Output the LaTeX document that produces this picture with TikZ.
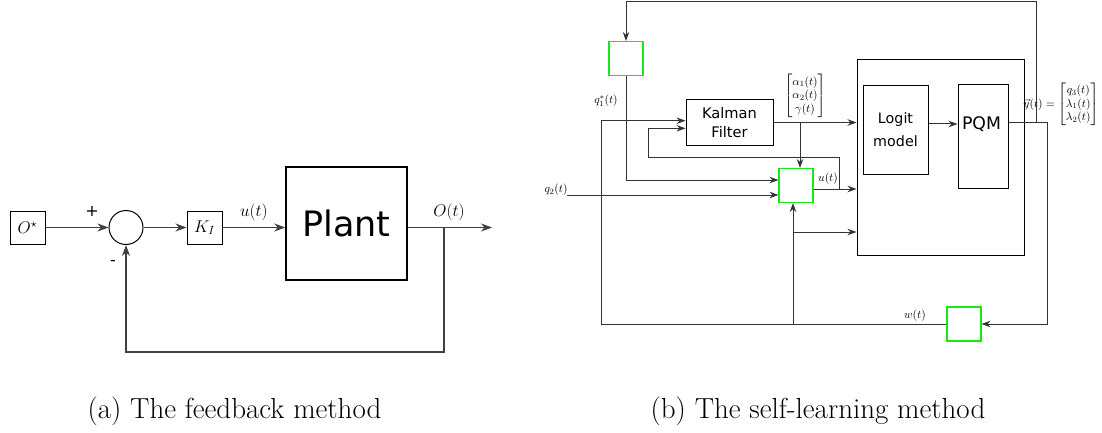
\RequirePackage{fix-cm}
\documentclass[tikz,border=0pt]{standalone}
\usepackage{amsmath}
\usepackage{fontspec}
\newfontfamily\dejavu{DejaVu Sans}
\usetikzlibrary{positioning,arrows.meta}

\begin{document}
\begin{tikzpicture}[
        x=1pt, y=-1pt,
        blk/.style={draw, line width=1pt, inner sep=0pt},
        gbox/.style={draw={rgb,255:red,20;green,235;blue,20}, line width=1.15pt, minimum width=34pt, minimum height=34pt, inner sep=0pt},
        arr/.style={-{Stealth[length=9pt, width=6.5pt, inset=3pt]}, line width=1pt, black!80},
        bigarr/.style={-{Stealth[length=11pt, width=8pt, inset=3.5pt]}, line width=1.1pt, black!75},
        bigmath/.style={font=\fontsize{17}{20}\selectfont},
        smallmath/.style={font=\fontsize{11.5}{13.5}\selectfont},
        capt/.style={font=\fontsize{29}{33}\selectfont}
    ]
        \useasboundingbox (0,0) rectangle (1102,433);

        % (a) feedback loop
        \node[blk, minimum width=35pt, minimum height=33pt, bigmath] (ostar) at (27.5,227.5) {$O^\star$};
        \node[draw, circle, line width=1pt, minimum size=34pt, inner sep=0pt] (sum) at (126,227.5) {};
        \node[blk, minimum width=35pt, minimum height=33pt, bigmath] (ki) at (204.5,227.5) {$K_I$};
        \node[draw, line width=1.5pt, minimum width=121pt, minimum height=113pt, font=\dejavu\fontsize{35}{40}\selectfont] (plant) at (346.5,223.5) {Plant};

        \coordinate (out) at (492,227.5);
        \coordinate (fb) at (444,227.5);
        \coordinate (fbb) at (444,352);

        \draw[bigarr] (ostar) -- (sum);
        \draw[bigarr] (sum) -- (ki);
        \draw[bigarr] (ki.east) -- (ki.east -| plant.west);
        \draw[bigarr] (plant.east |- out) -- (out);
        \draw[bigarr] (fb) -- (fbb) -| (sum.south);

        % signs and signals
        \node[font=\dejavu\fontsize{16}{18}\selectfont] (plus) at (92,211) {+};
        \node[font=\dejavu\fontsize{16}{18}\selectfont] (minus) at (113,263) {-};
        \node[bigmath] (ulab) at (254,212) {$u(t)$};
        \node[bigmath] (olab) at (449,212) {$O(t)$};

        % (b) self-learning loop
        \node[gbox] (g1) at (626,58.5) {};
        \node[gbox] (g2) at (796,185.5) {};
        \node[gbox] (gw) at (964,324) {};
        \node[blk, minimum width=87pt, minimum height=45pt, align=center, font=\dejavu\fontsize{14.6}{19}\selectfont] (kalman) at (729.5,122.5) {Kalman\\Filter};
        \node[blk, minimum width=167pt, minimum height=195pt] (system) at (940.5,157.5) {};
        \node[blk, minimum width=65pt, minimum height=88pt, align=center, font=\dejavu\fontsize{14.3}{23}\selectfont] (logit) at (895.5,130) {Logit\\model};
        \node[blk, minimum width=50pt, minimum height=103pt] (pqm) at (983,136.5) {};
        \node[font=\dejavu\fontsize{17.3}{20}\selectfont] (pqmtxt) at (981.5,124) {PQM};

        % signals
        \node[smallmath] (q1lab) at (606,101) {$q_1^*(t)$};
        \node[smallmath] (q2lab) at (556,190) {$q_2(t)$};
        \node[smallmath] (alab) at (805,96) {$\begin{bmatrix}\alpha_1(t)\\ \alpha_2(t)\\ \gamma(t)\end{bmatrix}$};
        \node[smallmath] (ulab2) at (828,179) {$u(t)$};
        \node[smallmath] (ylab) at (1061,104.5) {$\vec{y}(t) = \begin{bmatrix}q_3(t)\\ \lambda_1(t)\\ \lambda_2(t)\end{bmatrix}$};
        \node[smallmath] (wlab) at (915,316) {$w(t)$};

        \coordinate (topr) at (1036,2);
        \coordinate (topl) at (626,2);
        \coordinate (outr) at (1047,123);
        \coordinate (q2in) at (567,195);
        \coordinate (loopl) at (601,324);
        \coordinate (junc) at (793,324);
        \coordinate (juncm) at (793,232);
        \coordinate (kbr) at (800,122.5);
        \coordinate (ubr) at (839,189);
        \coordinate (fbl) at (648,157);

        % connections
        \draw[arr] (pqm.east |- outr) -- (outr) |- (gw.east);
        \draw[arr] (topr |- outr) -- (topr) -- (topl) -- (g1.north);
        \draw[arr] (g1.south) |- ([yshift=5.5pt]g2.west);
        \draw[arr] (q2in) -- (q2in -| g2.west);
        \draw[arr] (kalman.east) -- (kalman.east -| system.west);
        \draw[arr] (kbr) -- (kbr |- g2.north);
        \draw[arr] (gw.west) -- (loopl) |- ([yshift=1.8pt]kalman.west);
        \draw[arr] (junc) -- (junc |- g2.south);
        \draw[arr] (juncm) -- (juncm -| system.west);
        \draw[arr] ([yshift=-3.5pt]g2.east) -- ([yshift=-3.5pt]g2.east -| system.west);
        \draw[arr] (ubr) |- (fbl) |- ([yshift=-5.8pt]kalman.west);
        \draw[arr] ([yshift=6pt]logit.east) -- ([yshift=6pt]logit.east -| pqm.west);

        % captions
        \node[capt] (capa) at (234.5,411) {(a) The feedback method};
        \node[capt] (capb) at (818,411) {(b) The self-learning method};
    \end{tikzpicture}
\end{document}
